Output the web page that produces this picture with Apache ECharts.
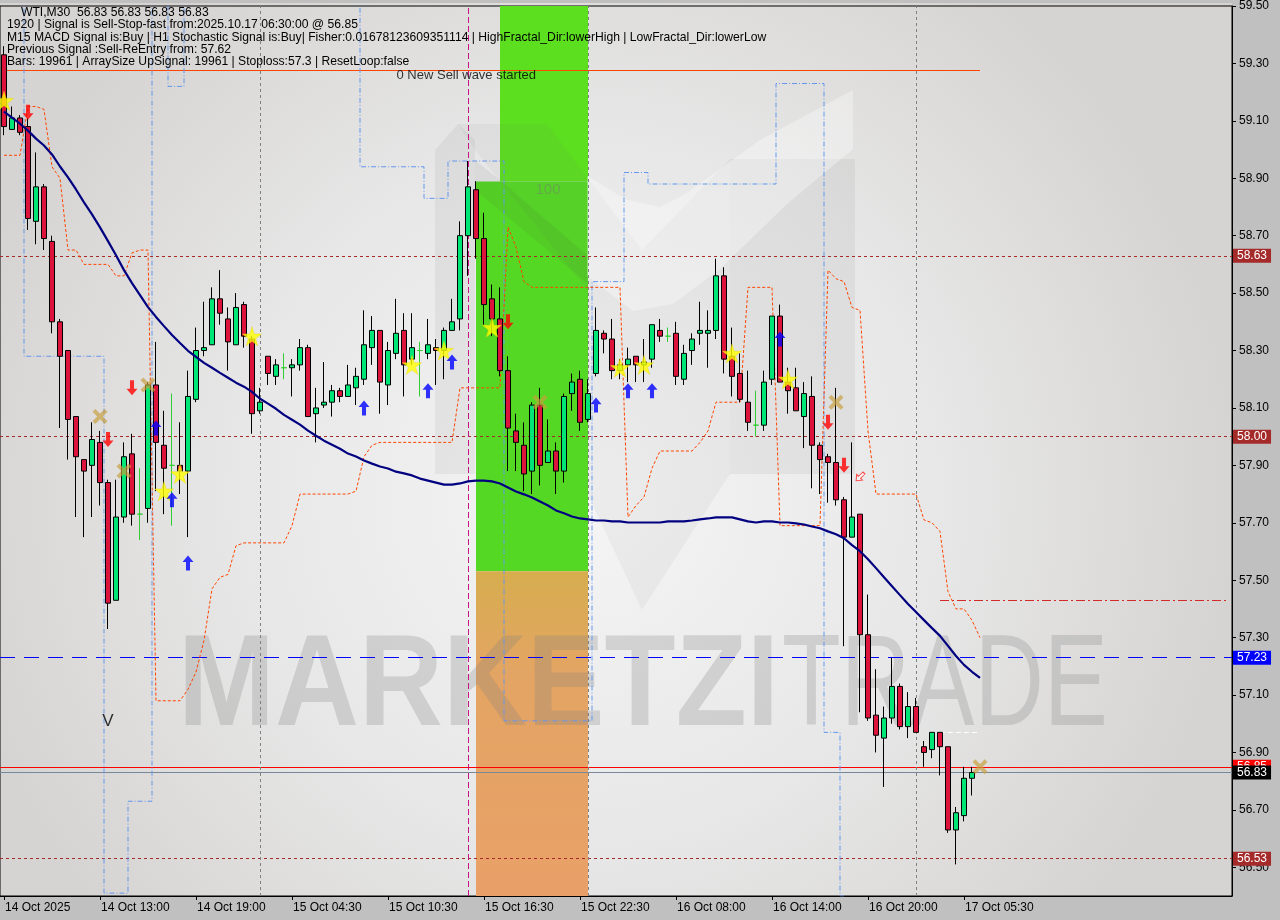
<!DOCTYPE html>
<html><head><meta charset="utf-8">
<script src="https://cdn.jsdelivr.net/npm/echarts@6/dist/echarts.min.js"></script>
<style>html,body{margin:0;padding:0;background:#c0c0c0}#c{width:1280px;height:920px}</style>
</head><body><div id="c"></div>
<script>
// ---------- DATA ----------
const tickLabels = ['14 Oct 2025','14 Oct 13:00','14 Oct 19:00','15 Oct 04:30','15 Oct 10:30','15 Oct 16:30','15 Oct 22:30','16 Oct 08:00','16 Oct 14:00','16 Oct 20:00','17 Oct 05:30'];
const tickStep = 12;
const slotCount = 154;
const yTicks = [56.5,56.7,56.9,57.1,57.3,57.5,57.7,57.9,58.1,58.3,58.5,58.7,58.9,59.1,59.3,59.5];

// [open, close, low, high]
const candles = [
[59.33,59.08,59.05,59.36],[59.07,59.11,59.07,59.15],[59.11,59.06,59.05,59.12],[59.08,58.76,58.72,59.11],
[58.75,58.87,58.67,58.99],[58.87,58.69,58.65,58.88],[58.68,58.40,58.36,58.70],[58.40,58.28,58.03,58.41],
[58.30,58.06,57.92,58.30],[58.07,57.93,57.72,58.07],[57.92,57.88,57.65,57.92],[57.90,57.99,57.72,58.05],
[57.98,57.84,57.76,58.02],[57.84,57.42,57.33,57.85],[57.43,57.72,57.43,57.85],[57.72,57.93,57.70,57.98],
[57.94,57.73,57.69,58.01],[57.73,57.73,57.64,57.89],[57.75,58.18,57.70,58.19],[58.18,57.98,57.81,58.33],
[57.97,57.89,57.73,58.09],[57.90,57.90,57.69,58.15],[57.90,57.88,57.80,58.05],[57.88,58.14,57.65,58.23],
[58.13,58.30,58.12,58.38],[58.30,58.31,58.28,58.47],[58.32,58.48,58.32,58.52],[58.48,58.43,58.39,58.58],
[58.41,58.33,58.23,58.45],[58.32,58.45,58.32,58.50],[58.46,58.35,58.31,58.47],[58.34,58.08,58.01,58.35],
[58.09,58.12,58.08,58.17],[58.28,58.22,58.18,58.28],[58.21,58.25,58.18,58.27],[58.24,58.24,58.20,58.29],
[58.24,58.25,58.14,58.27],[58.25,58.31,58.23,58.34],[58.31,58.07,58.07,58.32],[58.08,58.10,57.98,58.17],
[58.11,58.12,58.10,58.26],[58.12,58.16,58.07,58.18],[58.16,58.14,58.12,58.17],[58.14,58.18,58.14,58.25],
[58.17,58.21,58.11,58.24],[58.20,58.32,58.18,58.44],[58.31,58.37,58.25,58.42],[58.37,58.19,58.08,58.37],
[58.18,58.30,58.11,58.33],[58.29,58.36,58.27,58.48],[58.37,58.25,58.14,58.43],[58.27,58.31,58.25,58.43],
[58.30,58.30,58.14,58.33],[58.29,58.32,58.27,58.41],[58.31,58.30,58.18,58.34],[58.30,58.37,58.20,58.38],
[58.37,58.40,58.37,58.48],[58.41,58.70,58.37,58.75],[58.70,58.87,58.56,58.96],[58.86,58.69,58.62,58.89],
[58.69,58.46,58.39,58.78],[58.48,58.41,58.35,58.53],[58.41,58.23,58.21,58.52],[58.23,58.03,57.88,58.28],
[58.02,57.98,57.88,58.08],[57.97,57.87,57.81,58.05],[57.88,58.11,57.80,58.12],[58.11,57.90,57.83,58.17],
[57.91,57.95,57.91,58.06],[57.95,57.88,57.80,57.98],[57.88,58.14,57.84,58.15],[58.15,58.19,58.09,58.22],
[58.20,58.05,58.02,58.23],[58.06,58.15,58.05,58.20],[58.22,58.37,58.21,58.45],[58.36,58.34,58.29,58.37],
[58.34,58.23,58.20,58.41],[58.23,58.25,58.20,58.27],[58.25,58.27,58.19,58.31],[58.28,58.25,58.19,58.28],
[58.25,58.26,58.19,58.34],[58.27,58.39,58.24,58.39],[58.37,58.35,58.33,58.41],[58.35,58.35,58.33,58.38],
[58.36,58.21,58.18,58.40],[58.20,58.29,58.18,58.32],[58.30,58.34,58.25,58.36],[58.36,58.37,58.32,58.47],
[58.36,58.37,58.24,58.44],[58.37,58.56,58.34,58.62],[58.56,58.27,58.22,58.59],[58.28,58.21,58.14,58.38],
[58.22,58.13,58.12,58.29],[58.12,58.05,58.02,58.23],[58.04,58.04,58.00,58.16],[58.04,58.19,58.02,58.23],
[58.20,58.42,58.18,58.42],[58.42,58.19,58.19,58.46],[58.19,58.16,58.08,58.24],[58.17,58.09,58.09,58.24],
[58.07,58.15,57.96,58.19],[58.14,57.97,57.82,58.21],[57.97,57.92,57.80,57.98],[57.93,57.91,57.77,57.94],
[57.91,57.78,57.76,58.17],[57.78,57.65,57.27,57.79],[57.65,57.72,57.65,57.98],[57.73,57.31,57.04,57.73],
[57.31,57.02,57.01,57.45],[57.03,56.96,56.90,57.19],[56.95,57.02,56.78,57.06],[57.02,57.13,57.00,57.23],
[57.13,56.99,56.98,57.14],[56.99,57.06,56.95,57.11],[57.06,56.97,56.97,57.09],[56.92,56.90,56.85,56.94],
[56.91,56.97,56.88,56.97],[56.97,56.92,56.82,56.97],[56.92,56.63,56.62,56.92],[56.63,56.69,56.51,56.71],
[56.68,56.81,56.66,56.85],[56.81,56.83,56.75,56.85]
];

const maValues = [59.132,59.111,59.090,59.066,59.038,59.014,58.983,58.941,58.903,58.861,58.816,58.774,58.729,58.681,58.632,58.580,58.535,58.493,58.451,58.417,58.385,58.354,58.326,58.299,58.278,58.257,58.240,58.222,58.205,58.188,58.174,58.156,58.132,58.115,58.097,58.076,58.059,58.042,58.021,58.003,57.986,57.972,57.958,57.941,57.931,57.917,57.906,57.896,57.889,57.878,57.872,57.865,57.854,57.847,57.840,57.833,57.833,57.837,57.844,57.847,57.847,57.844,57.837,57.823,57.809,57.799,57.788,57.774,57.760,57.743,57.733,57.722,57.715,57.712,57.708,57.708,57.705,57.705,57.701,57.701,57.701,57.701,57.701,57.705,57.705,57.705,57.708,57.712,57.715,57.719,57.719,57.719,57.712,57.705,57.701,57.705,57.705,57.701,57.701,57.698,57.694,57.687,57.681,57.670,57.660,57.646,57.622,57.601,57.573,57.542,57.510,57.479,57.448,57.417,57.389,57.361,57.333,57.306,57.271,57.236,57.205,57.181,57.160];

const stopValues = [58.98,58.98,58.98,59.15,59.15,59.14,58.94,58.90,58.65,58.65,58.60,58.60,58.60,58.60,58.56,58.56,58.64,58.65,58.65,
57.08,57.08,57.08,57.08,57.12,57.18,57.29,57.47,57.51,57.52,57.62,57.63,57.63,57.63,57.63,57.63,57.63,57.69,
57.80,57.80,57.80,57.80,57.80,57.80,57.80,57.81,57.93,57.97,57.98,57.98,57.98,57.98,57.98,57.98,57.98,57.98,57.98,57.98,
58.17,58.17,58.17,58.17,58.17,58.17,58.73,58.66,58.54,58.52,58.52,58.52,58.52,58.52,58.52,58.52,58.52,58.52,58.52,58.52,58.52,
57.72,57.76,57.79,57.89,57.95,57.95,57.95,57.95,57.95,57.98,58.02,58.12,58.12,58.12,58.12,58.52,58.52,58.52,58.52,
57.69,57.69,57.69,57.69,57.69,57.69,58.58,58.55,58.54,58.45,58.44,58.02,57.80,57.80,57.80,57.80,57.80,57.80,
57.71,57.70,57.67,57.46,57.40,57.40,57.36,57.30];

const bandValues = [59.7,59.7,59.7,58.28,58.28,58.28,58.28,58.28,58.28,58.28,58.28,58.28,58.28,56.41,56.41,56.41,56.73,56.73,56.73,
59.7,59.7,59.22,59.22,59.7,59.7,59.7,59.7,59.7,59.7,59.7,59.7,59.7,59.7,59.7,59.7,59.7,59.7,59.7,59.7,59.7,59.7,59.7,59.7,59.7,59.7,
58.94,58.94,58.94,58.94,58.94,58.94,58.94,58.94,58.83,58.83,58.83,58.96,58.96,58.96,58.96,58.96,58.96,58.96,
57.01,57.01,57.01,57.01,57.01,57.01,57.01,57.01,57.01,57.01,57.01,58.54,58.54,58.54,58.54,58.92,58.92,58.92,
58.88,58.88,58.88,58.88,58.88,58.88,58.88,58.88,58.88,58.88,58.88,58.88,58.88,58.88,58.88,58.88,
59.23,59.23,59.23,59.23,59.23,59.23,56.97,56.97,56.40];

const starPts = [[0,59.17],[20,57.81],[22,57.87],[31,58.35],[51,58.25],[55,58.30],[61,58.38],[77,58.24],[80,58.25],[91,58.29],[98,58.20]];
const upArrowPts = [[19,58.03],[21,57.78],[23,57.56],[45,58.10],[53,58.16],[56,58.26],[74,58.11],[78,58.16],[81,58.16],[97,58.34]];
const downArrowPts = [[3,59.13],[13,57.99],[16,58.17],[63,58.40],[103,58.05],[105,57.90]];
const crossPts = [[12,58.07],[15,57.88],[18,58.18],[67,58.12],[104,58.12],[122,56.85]];
const hollowArrowPts = [[107,57.86]];

const dottedLevels = [58.63, 58.00, 56.53];
const stopLossLevel = 57.23;
const askLevel = 56.85;
const bidLevel = 56.83;
const dashDotLevel = 57.43;   // from bar 117
const whiteLevel = 56.97;     // bars 117-122
const waveLevel = 59.276;     // bars 0-122
const separatorBars = [32, 73, 114];
const signalBar = 58;
const zoneBars = {greenTopStart: 62, start: 59, end: 73};
const zonePrices = {top: 59.5, greenSplit: 58.889, orangeSplit: 57.531, bottom: 56.4};

const headerLines = [
  'WTI,M30  56.83 56.83 56.83 56.83',
  '1920 | Signal is Sell-Stop-fast from:2025.10.17 06:30:00 @ 56.85',
  'M15 MACD Signal is:Buy | H1 Stochastic Signal is:Buy| Fisher:0.01678123609351114 | HighFractal_Dir:lowerHigh | LowFractal_Dir:lowerLow',
  'Previous Signal :Sell-ReEntry from: 57.62',
  'Bars: 19961 | ArraySize UpSignal: 19961 | Stoploss:57.3 | ResetLoop:false'
];
const annotations = [
  {bar: 13, price: 57.01, text: 'V', size: 17, color: '#000', pos: 'inside'},
  {bar: 49, price: 59.257, text: '0 New Sell wave started', size: 13, color: '#000', pos: 'right'},
  {bar: 68, price: 58.86, text: '100', size: 15, color: 'rgba(120,120,120,0.55)', pos: 'inside'}
];

// ---------- BUILD ----------
const cats = [];
for (let i = 0; i < slotCount; i++) {
  const k = i / tickStep;
  cats.push(i % tickStep === 0 && k < tickLabels.length ? tickLabels[k] : '#' + i);
}
const isTick = (idx) => idx % tickStep === 0 && idx / tickStep < tickLabels.length;

const ARROW = 'path://M6,0 L12,7 L8.2,7 L8.2,16 L3.8,16 L3.8,7 L0,7 Z';
const STAR = 'path://M50,0 L61,35 L98,35 L68,57 L79,91 L50,70 L21,91 L32,57 L2,35 L39,35 Z';
const XMARK = 'path://M0,3 L3,0 L8,5 L13,0 L16,3 L11,8 L16,13 L13,16 L8,11 L3,16 L0,13 L5,8 Z';

const hLabel = (txt, bg) => ({show: true, position: 'end', distance: 1, formatter: txt, backgroundColor: bg, color: '#fff', padding: [2, 4, 0, 4], fontSize: 12, fontFamily: 'Liberation Sans'});

const markLineData = [];
dottedLevels.forEach(v => markLineData.push({yAxis: v, lineStyle: {color: '#a52a2a', type: [3, 3], width: 1}, label: hLabel(v.toFixed(2), '#a52a2a')}));
markLineData.push({yAxis: stopLossLevel, lineStyle: {color: '#0000ff', type: [15, 9], width: 1}, label: hLabel(stopLossLevel.toFixed(2), '#0000ff')});
markLineData.push({yAxis: askLevel, lineStyle: {color: '#ff0000', type: 'solid', width: 1}, label: hLabel(askLevel.toFixed(2), '#ff0000')});
markLineData.push({yAxis: bidLevel, lineStyle: {color: '#778899', type: 'solid', width: 1}, label: hLabel(bidLevel.toFixed(2), '#000000')});
markLineData.push([{coord: [cats[117], dashDotLevel], lineStyle: {color: '#d42a2a', type: [9, 3, 2, 3], width: 1}, label: {show: false}}, {coord: [cats[slotCount - 1], dashDotLevel]}]);
markLineData.push([{coord: [cats[117], whiteLevel], lineStyle: {color: '#ffffff', type: [5, 3], width: 1}, label: {show: false}}, {coord: [cats[122], whiteLevel]}]);
markLineData.push([{coord: [cats[0], waveLevel], lineStyle: {color: '#ff4500', type: 'solid', width: 1}, label: {show: false}}, {coord: [cats[122], waveLevel]}]);
separatorBars.forEach(b => markLineData.push({xAxis: cats[b], lineStyle: {color: '#808080', type: [3, 3], width: 1}, label: {show: false}}));
markLineData.push({xAxis: cats[signalBar], lineStyle: {color: '#c71585', type: [6, 3], width: 1}, label: {show: false}});

const orangeGrad = {type: 'linear', x: 0, y: 0, x2: 0, y2: 1, colorStops: [
  {offset: 0, color: '#d6ad4e'}, {offset: 0.3, color: '#e3a563'}, {offset: 1, color: '#e9a068'}]};
const markAreaData = [
  [{coord: [cats[zoneBars.greenTopStart], zonePrices.top], itemStyle: {color: '#5cdf1f'}}, {coord: [cats[zoneBars.end], zonePrices.greenSplit]}],
  [{coord: [cats[zoneBars.start], zonePrices.greenSplit], itemStyle: {color: '#55d824'}}, {coord: [cats[zoneBars.end], zonePrices.orangeSplit]}],
  [{coord: [cats[zoneBars.start], zonePrices.orangeSplit], itemStyle: {color: orangeGrad}}, {coord: [cats[zoneBars.end], zonePrices.bottom]}]
];

const wm = 'rgba(110,110,110,0.09)';
const graphics = [
  {type: 'rect', z: -10, silent: true, shape: {x: 0, y: 3, width: 1232, height: 893},
   style: {fill: {type: 'radial', x: 0.48, y: 0.55, r: 0.72, colorStops: [{offset: 0, color: '#f5f5f5'}, {offset: 0.55, color: '#e7e7e7'}, {offset: 1, color: '#d6d4d2'}]}}},
  // logo watermark
  {type: 'polygon', z: 3, silent: true, shape: {points: [[435,150],[458,124],[475,140],[475,474],[435,474]]}, style: {fill: wm}},
  {type: 'polygon', z: 3, silent: true, shape: {points: [[458,124],[547,124],[642,250],[730,159],[730,474],[713,500],[642,610],[587,493],[587,290],[475,150]]}, style: {fill: 'rgba(110,110,110,0.06)'}},
  {type: 'polygon', z: 3, silent: true, shape: {points: [[475,160],[500,180],[587,255],[587,283],[475,190]]}, style: {fill: 'rgba(60,60,60,0.08)'}},
  {type: 'polygon', z: 3, silent: true, shape: {points: [[730,159],[855,159],[855,474],[730,474]]}, style: {fill: wm}},
  {type: 'polygon', z: 3, silent: true, shape: {points: [[587,176],[627,200],[660,207],[687,193],[760,140],[853,90],[853,149],[787,204],[720,269],[673,304],[633,311],[587,276]]}, style: {fill: 'rgba(255,255,255,0.33)'}},
  // text watermark
  {type: 'text', z: 3, silent: true, x: 178, y: 624, scaleX: 0.895, style: {text: 'MARKETZI', font: 'bold 130px "Liberation Sans"', fill: 'rgba(128,128,128,0.26)', textVerticalAlign: 'top'}},
  {type: 'text', z: 3, silent: true, x: 782, y: 624, scaleX: 0.74, style: {text: 'TRADE', font: '130px "Liberation Sans"', fill: 'rgba(128,128,128,0.26)', textVerticalAlign: 'top'}}
];
const headerX = [21, 7, 7, 7, 7];
headerLines.forEach((t, i) => graphics.push({type: 'text', z: 20, silent: true, x: headerX[i], y: 12.6 + i * 12.3,
  style: {text: t, font: '12.15px "Liberation Sans"', fill: '#000', textVerticalAlign: 'middle'}}));

const option = {
  animation: false,
  backgroundColor: '#c0c0c0',
  textStyle: {fontFamily: 'Liberation Sans'},
  graphic: graphics,
  grid: {left: 0, right: 48, top: 3, bottom: 24, show: true, borderColor: '#000', borderWidth: 1, backgroundColor: 'transparent'},
  xAxis: {
    type: 'category', data: cats, boundaryGap: true,
    axisLine: {show: true, lineStyle: {color: '#000', width: 1}},
    axisTick: {show: true, alignWithLabel: true, interval: (i) => isTick(i), length: 4, lineStyle: {color: '#000'}},
    axisLabel: {interval: (i) => isTick(i), formatter: (v) => (v.charAt(0) === '#' ? '' : v), align: 'left', color: '#000', fontSize: 12, margin: 6, padding: [0, 0, 0, 1]},
    splitLine: {show: false}
  },
  yAxis: {
    type: 'value', position: 'right', min: 56.4, max: 59.5,
    axisLine: {show: true, lineStyle: {color: '#000', width: 1}},
    axisTick: {show: true, customValues: yTicks, length: 4, lineStyle: {color: '#000'}},
    axisLabel: {customValues: yTicks, formatter: (v) => v.toFixed(2), color: '#000', fontSize: 12, margin: 7},
    splitLine: {show: false}
  },
  series: [
    {name: 'zones', type: 'line', z: 1, data: [], silent: true,
     markArea: {silent: true, data: markAreaData}},
    {name: 'levels', type: 'line', z: 4, data: [], silent: true,
     markLine: {silent: true, symbol: ['none', 'none'], animation: false, data: markLineData}},
    {name: 'band', type: 'line', z: 5, data: bandValues, step: 'middle', showSymbol: false, silent: true,
     lineStyle: {color: '#6495ed', width: 1, type: [5, 2, 1, 2]}},
    {name: 'stop', type: 'line', z: 5, data: stopValues, showSymbol: false, silent: true,
     lineStyle: {color: '#ff4500', width: 1, type: [3, 2]}},
    {name: 'WTI', type: 'candlestick', z: 6, data: candles, barWidth: 6,
     itemStyle: {color: '#00e676', color0: '#dc143c', borderColor: '#000', borderColor0: '#000', borderColorDoji: '#32cd32', borderWidth: 1}},
    {name: 'MA', type: 'line', z: 7, data: maValues, showSymbol: false, silent: true,
     lineStyle: {color: '#000080', width: 2.2}},
    {name: 'stars', type: 'scatter', z: 8, data: starPts, symbol: STAR, symbolSize: 19,
     itemStyle: {color: '#ffff00', borderColor: '#e8d800', borderWidth: 0.5}},
    {name: 'up', type: 'scatter', z: 8, data: upArrowPts, symbol: ARROW, symbolSize: [11, 15],
     itemStyle: {color: '#0000ff'}},
    {name: 'down', type: 'scatter', z: 8, data: downArrowPts, symbol: ARROW, symbolRotate: 180, symbolSize: [11, 15],
     itemStyle: {color: '#ff0000'}},
    {name: 'cross', type: 'scatter', z: 8, data: crossPts, symbol: XMARK, symbolSize: 15,
     itemStyle: {color: 'rgba(200,158,60,0.85)'}},
    {name: 'hollow', type: 'scatter', z: 8, data: hollowArrowPts, symbol: ARROW, symbolRotate: 135, symbolSize: [8, 11],
     itemStyle: {color: 'rgba(255,255,255,0.6)', borderColor: '#ff2020', borderWidth: 1}},
    {name: 'notes', type: 'scatter', z: 9, symbolSize: 1, itemStyle: {color: 'transparent'},
     data: annotations.map(a => ({value: [a.bar, a.price], label: {show: true, position: a.pos, distance: 0, formatter: a.text, fontSize: a.size, color: a.color, fontFamily: 'Liberation Sans'}}))}
  ]
};

const chart = echarts.init(document.getElementById('c'), null, {renderer: 'canvas'});
chart.setOption(option);
</script>
</body></html>
